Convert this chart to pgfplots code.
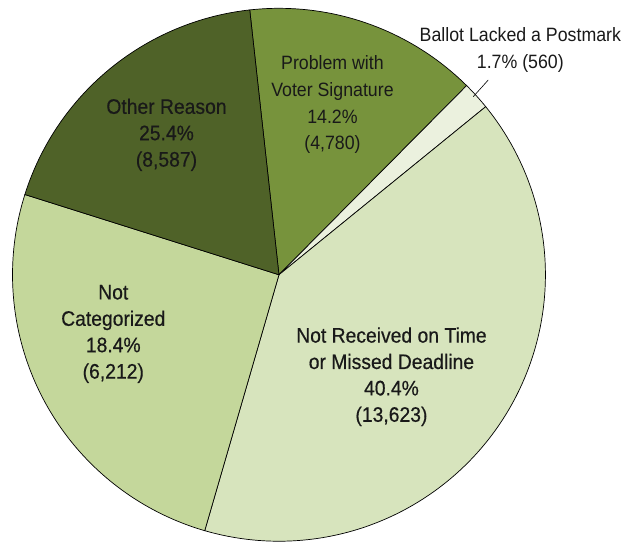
\documentclass[border=0pt]{standalone}
\usepackage{pgfplots}
\pgfplotsset{compat=1.18}
\usepackage{fontspec}
\setmainfont[FakeStretch=0.92]{Liberation Sans}
\newfontfamily\medfont[FakeStretch=0.92, FakeBold=0.5]{Liberation Sans}
\definecolor{cOther}{HTML}{4F6228}
\definecolor{cProb}{HTML}{77933C}
\definecolor{cNotCat}{HTML}{C4D79B}
\definecolor{cNotRec}{HTML}{D7E4BD}
\definecolor{cPost}{HTML}{EBF1DE}
\newcommand\fsA{\medfont\fontsize{21}{26.4}\selectfont}
\newcommand\fsB{\fontsize{19.3}{26.6}\selectfont}
\begin{document}
\begin{tikzpicture}
% slice values in percent, clockwise from the top boundary
\def\vProb{14.2}
\def\vPost{1.7}
\def\vNotRec{40.4}
\def\vBig{25.4}
\def\vSmall{18.4}
\pgfmathsetmacro{\R}{266.5}
\pgfmathsetmacro{\k}{360/100.1}
\pgfmathsetmacro{\aA}{96.3}
\pgfmathsetmacro{\aB}{\aA-\vProb*\k}
\pgfmathsetmacro{\aC}{\aB-\vPost*\k}
\pgfmathsetmacro{\aD}{\aC-\vNotRec*\k}
\pgfmathsetmacro{\aE}{\aD-\vBig*\k}
\pgfmathsetmacro{\aF}{\aE-\vSmall*\k}
\begin{axis}[x=1pt, y=1pt, scale only axis,
  xmin=-279, xmax=342, ymin=-267.2, ymax=274.8,
  hide axis, clip=false]
% invisible frame that fixes the picture's extent
\addplot[draw=none, forget plot] coordinates {(-279,-267.2) (342,274.8)};
\addplot[fill=cProb, draw=black, line width=0.7pt, domain=\aB:\aA, samples=60, variable=\t]
  ({\R*cos(\t)},{\R*sin(\t)}) -- (axis cs:0,0) -- cycle;
\addplot[fill=cPost, draw=black, line width=0.7pt, domain=\aC:\aB, samples=10, variable=\t]
  ({\R*cos(\t)},{\R*sin(\t)}) -- (axis cs:0,0) -- cycle;
\addplot[fill=cNotRec, draw=black, line width=0.7pt, domain=\aD:\aC, samples=150, variable=\t]
  ({\R*cos(\t)},{\R*sin(\t)}) -- (axis cs:0,0) -- cycle;
\addplot[fill=cNotCat, draw=black, line width=0.7pt, domain=\aE:\aD, samples=100, variable=\t]
  ({\R*cos(\t)},{\R*sin(\t)}) -- (axis cs:0,0) -- cycle;
\addplot[fill=cOther, draw=black, line width=0.7pt, domain=\aF:\aE, samples=80, variable=\t]
  ({\R*cos(\t)},{\R*sin(\t)}) -- (axis cs:0,0) -- cycle;
% leader line for the small slice
\addplot[black, line width=0.6pt] coordinates {(209.3,194.8) (194.3,178.1)};
% labels
\node[align=center, inner sep=0pt, font=\fsA, text=black!90] at (axis cs:112.5,-102) {Not Received on Time\\or Missed Deadline\\40.4\%\\(13,623)};
\node[align=center, inner sep=0pt, font=\fsA, text=black!90] at (axis cs:-165.7,-59.2) {Not\\Categorized\\18.4\%\\(6,212)};
\node[align=center, inner sep=0pt, font=\fsA, text=black!90] at (axis cs:-112.5,140) {Other Reason\\25.4\%\\(8,587)};
\node[align=center, inner sep=0pt, font=\fsB, text=black!90] at (axis cs:53.5,170) {Problem with\\Voter Signature\\14.2\%\\(4,780)};
\node[align=center, inner sep=0pt, font=\fsB, text=black!90] at (axis cs:241.4,224.8) {Ballot Lacked a Postmark\\1.7\% (560)};
\end{axis}
\end{tikzpicture}
\end{document}
